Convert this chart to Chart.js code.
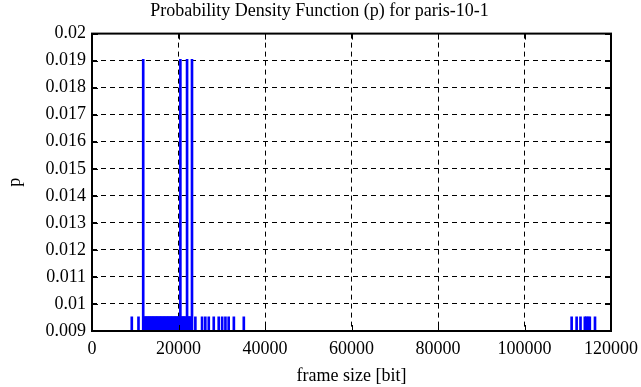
<!DOCTYPE html>
<html>
<head>
<meta charset="utf-8">
<script src="https://cdn.jsdelivr.net/npm/chart.js@4/dist/chart.umd.min.js"></script>
<style>
    html, body { margin: 0; padding: 0; background: #fff; }
    #wrap { width: 641px; height: 387px; }
</style>
</head>
<body>
<div id="wrap"><canvas id="pdfChart"></canvas></div>
<script>
// frame sizes [bit] and their probability
const frameSizes = [
    9200, 10750, 11840,
    12050, 12250, 12400, 12600, 12800, 12950, 13150, 13300, 13500, 13700,
    13850, 14050, 14200, 14400, 14600, 14750, 14950, 15100, 15300, 15500,
    15650, 15850, 16000, 16200, 16400, 16550, 16750, 16900, 17100, 17300,
    17450, 17650, 17800, 18000, 18200, 18350, 18550, 18700, 18900, 19100,
    19250, 19450, 19600, 19800, 20000, 20150, 20430, 20600, 20800, 20950,
    21150, 21350, 21500, 21700, 21980, 22150, 22350, 22500, 22700, 22900,
    23120,
    23900, 25450, 26200, 27000, 28150, 29300, 30100, 30850, 31600, 32800, 35100,
    110900, 112050, 112950, 113950, 114300, 114700, 115100, 116300
];
const tallSizes = [11840, 20430, 21980, 23120];
const probs = frameSizes.map(s => tallSizes.includes(s) ? 0.01905 : 0.00952);

const xTicks = [0, 20000, 40000, 60000, 80000, 100000, 120000];
const yMin = 0.009, yMax = 0.02;

const serif = "'Liberation Serif', 'Times New Roman', serif";

// gnuplot-like frame with inward ticks
const framePlugin = {
    id: "frame",
    afterDatasetsDraw(chart) {
        const { ctx, chartArea: a, scales } = chart;
        ctx.save();
        ctx.strokeStyle = "#000";
        ctx.lineWidth = 1;
        ctx.beginPath();
        scales.x.ticks.forEach(t => {
            const px = Math.round(scales.x.getPixelForValue(t.value)) + 0.5;
            ctx.moveTo(px, a.bottom); ctx.lineTo(px, a.bottom - 6);
            ctx.moveTo(px, a.top); ctx.lineTo(px, a.top + 6);
        });
        scales.y.ticks.forEach(t => {
            const py = Math.round(scales.y.getPixelForValue(t.value)) + 0.5;
            ctx.moveTo(a.left, py); ctx.lineTo(a.left + 6, py);
            ctx.moveTo(a.right, py); ctx.lineTo(a.right - 6, py);
        });
        ctx.stroke();
        ctx.lineWidth = 2;
        ctx.strokeRect(a.left, a.top, a.right - a.left, a.bottom - a.top);
        ctx.restore();
    }
};

const ctx = document.getElementById("pdfChart");
new Chart(ctx, {
    type: "bar",
    data: {
        datasets: [{
            data: frameSizes.map((s, i) => ({ x: s, y: probs[i] })),
            backgroundColor: "#0000ff",
            borderWidth: 0,
            barThickness: 2,
        }]
    },
    options: {
        responsive: true,
        maintainAspectRatio: false,
        animation: false,
        layout: { padding: { left: 0, right: 2, top: 0, bottom: 0 } },
        plugins: {
            legend: { display: false },
            tooltip: { enabled: false },
            title: {
                display: true,
                text: "Probability Density Function (p) for paris-10-1",
                color: "#000",
                font: { family: serif, size: 18, weight: "normal" },
                padding: { top: 0, bottom: 12 },
            },
        },
        scales: {
            x: {
                type: "linear",
                offset: false,
                min: 0, max: 120000,
                afterBuildTicks: s => { s.ticks = xTicks.map(v => ({ value: v })); },
                afterFit: s => { s.paddingRight = 30; },
                ticks: {
                    color: "#000",
                    font: { family: serif, size: 18, lineHeight: 1 },
                    padding: 9,
                    maxRotation: 0,
                    callback: v => String(v),
                },
                grid: { offset: false, color: "#000", lineWidth: 1, drawTicks: false },
                border: { display: false, dash: [5, 4] },
                title: {
                    display: true,
                    text: "frame size [bit]",
                    color: "#000",
                    font: { family: serif, size: 18, lineHeight: 1 },
                    padding: { top: 0, bottom: 2 },
                },
            },
            y: {
                min: yMin, max: yMax,
                ticks: {
                    stepSize: 0.001,
                    color: "#000",
                    font: { family: serif, size: 18 },
                    padding: 6,
                    callback: v => String(parseFloat(v.toFixed(3))),
                },
                grid: { color: "#000", lineWidth: 1, drawTicks: false },
                border: { display: false, dash: [5, 4] },
                title: {
                    display: true,
                    text: "p",
                    color: "#000",
                    font: { family: serif, size: 18 },
                    padding: { top: 4, bottom: 4 },
                },
                afterFit: s => { s.width = 92; },
            },
        },
    },
    plugins: [framePlugin],
});
</script>
</body>
</html>
